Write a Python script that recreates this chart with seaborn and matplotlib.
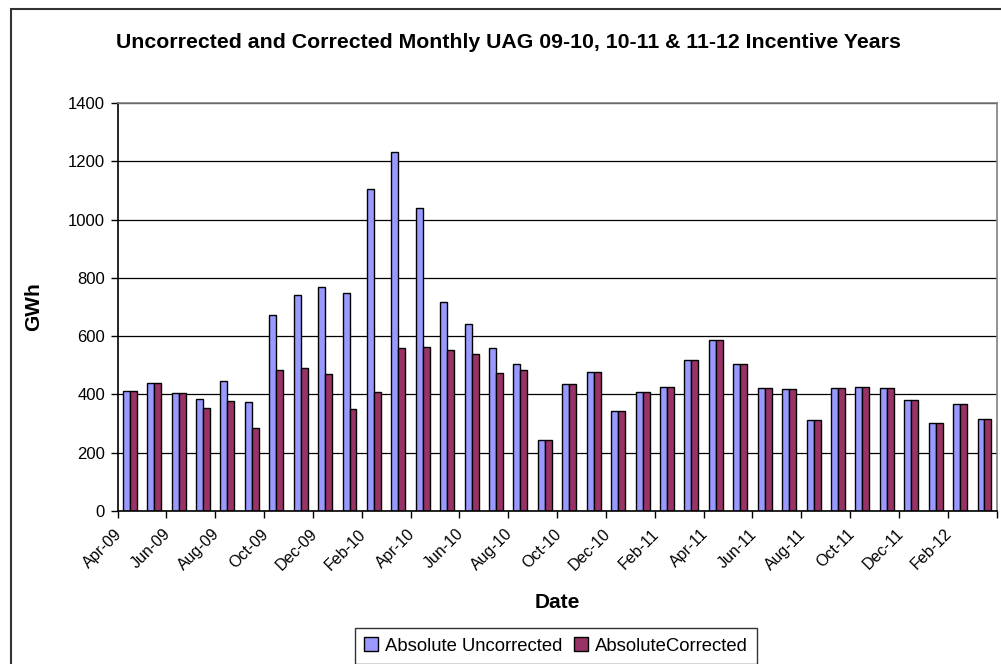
import matplotlib
matplotlib.use("Agg")
import matplotlib.pyplot as plt
import matplotlib.transforms as mtransforms
from matplotlib.patches import Rectangle
import seaborn as sns
import pandas as pd
import numpy as np

months = ["Apr-09", "May-09", "Jun-09", "Jul-09", "Aug-09", "Sep-09", "Oct-09", "Nov-09", "Dec-09",
          "Jan-10", "Feb-10", "Mar-10", "Apr-10", "May-10", "Jun-10", "Jul-10", "Aug-10", "Sep-10",
          "Oct-10", "Nov-10", "Dec-10", "Jan-11", "Feb-11", "Mar-11", "Apr-11", "May-11", "Jun-11",
          "Jul-11", "Aug-11", "Sep-11", "Oct-11", "Nov-11", "Dec-11", "Jan-12", "Feb-12", "Mar-12"]
uncorrected = [413, 440, 404, 385, 445, 375, 673, 740, 768, 749, 1106, 1231, 1039, 717, 643, 560, 505, 243,
               436, 478, 344, 410, 427, 519, 588, 505, 422, 418, 312, 422, 427, 422, 382, 303, 367, 317]
corrected = [413, 440, 404, 355, 376, 285, 483, 492, 469, 349, 409, 560, 564, 551, 538, 474, 483, 243,
             436, 478, 344, 410, 427, 519, 588, 505, 422, 418, 312, 422, 427, 422, 382, 303, 367, 317]
series_names = ["Absolute Uncorrected", "AbsoluteCorrected"]
colors = ["#9999FF", "#993366"]
yticks = [0, 200, 400, 600, 800, 1000, 1200, 1400]

df = pd.DataFrame({
    "Date": months * 2,
    "GWh": uncorrected + corrected,
    "Series": [series_names[0]] * len(months) + [series_names[1]] * len(months),
})

sns.set_theme(style="white")
plt.rcParams['font.family'] = ['Liberation Sans', 'DejaVu Sans']
plt.rcParams.update({"text.color": "black", "axes.labelcolor": "black",
                     "xtick.color": "black", "ytick.color": "black"})

W, H = 1001, 664
fig = plt.figure(figsize=(W / 100, H / 100), dpi=100)
fig.patch.set_facecolor("white")
ax = fig.add_axes([117.5 / W, 1 - 511 / H, (996.7 - 117.5) / W, (511 - 103) / H])

sns.barplot(data=df, x="Date", y="GWh", hue="Series", palette=colors, order=months,
            hue_order=series_names, width=2 / 3.5, gap=0, edgecolor="black", linewidth=1,
            saturation=1, ax=ax, legend=True)

ax.set_xlim(-0.5, len(months) - 0.5)
ax.set_ylim(0, 1400)
ax.set_yticks(yticks)
ax.set_yticklabels([str(v) for v in yticks], fontsize=12, color="black")
ax.yaxis.grid(True, color="black", linewidth=0.9)
ax.set_axisbelow(True)

# x ticks: labels every 2 months at category centers, tick marks at boundaries
ax.set_xticks(range(0, len(months), 2))
ax.set_xticklabels(months[::2], rotation=45, ha="right", fontsize=11.5, color="black")
ax.set_xticks(np.arange(-0.5, len(months), 2), minor=True)
ax.tick_params(axis="x", which="major", length=0, pad=11)
ax.tick_params(axis="x", which="minor", length=5, width=1, color="black", direction="out", bottom=True)
ax.tick_params(axis="y", length=5, width=1, color="black", direction="out", left=True, pad=4)
offset = mtransforms.ScaledTranslation(-5 / 100, 0, fig.dpi_scale_trans)
for lab in ax.get_xticklabels():
    lab.set_transform(lab.get_transform() + offset)

for side in ["left", "bottom"]:
    ax.spines[side].set_color("black")
    ax.spines[side].set_linewidth(1.2)
for side in ["top", "right"]:
    ax.spines[side].set_color("#808080")
    ax.spines[side].set_linewidth(1.2)

ax.set_xlabel("Date", fontsize=15, fontweight="bold", labelpad=14, color="black")
ax.set_ylabel("GWh", fontsize=15, fontweight="bold", labelpad=18, color="black")
fig.text(508 / W, 1 - 42 / H, "Uncorrected and Corrected Monthly UAG 09-10, 10-11 & 11-12 Incentive Years",
         ha="center", va="center", fontsize=15.3, fontweight="bold", color="black")

leg = ax.legend(loc="center", bbox_to_anchor=(556 / W, 1 - 646 / H), bbox_transform=fig.transFigure,
                ncol=2, fontsize=13.3, frameon=True, fancybox=False, shadow=False, handlelength=0.75,
                handleheight=0.75, handletextpad=0.4, columnspacing=0.6, borderpad=0.5, borderaxespad=0)
leg.get_frame().set_edgecolor("black")
leg.get_frame().set_linewidth(1)
for t in leg.get_texts():
    t.set_color("black")
for h in leg.legend_handles:
    h.set_edgecolor("black")
    h.set_linewidth(1)

fig.patches.append(Rectangle((11 / W, -0.2), 1.5, 1 - 9 / H + 0.2, transform=fig.transFigure,
                             fill=False, edgecolor="#333333", linewidth=1.5, zorder=-1))

fig.savefig("out.png", dpi=100, facecolor="white")
